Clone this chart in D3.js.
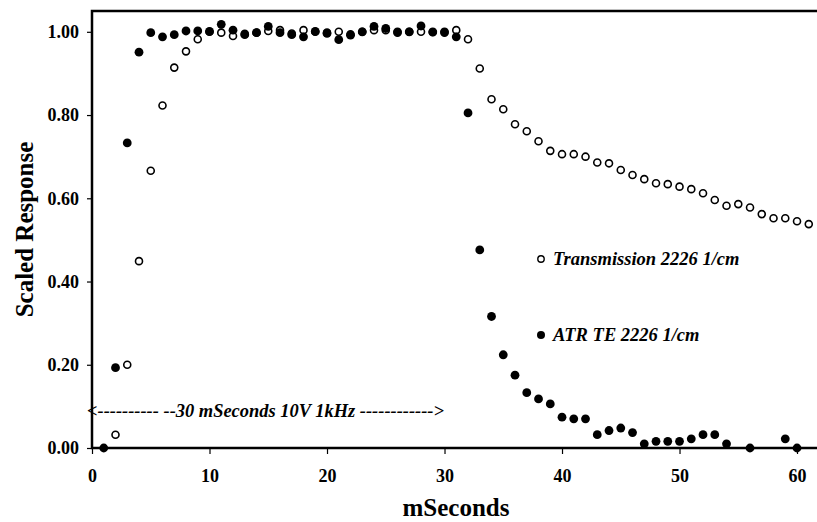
<!DOCTYPE html>
<html>
<head>
<meta charset="utf-8">
<script src="https://cdn.jsdelivr.net/npm/d3@7"></script>
<style>
  body { margin: 0; background: #fff; }
  svg { display: block; font-family: "Liberation Serif", "Times New Roman", serif; }
</style>
</head>
<body>
<div id="chart"></div>
<script>
// Transmission 2226 1/cm (open circles)
const transTime = [2, 3, 4, 5, 6, 7, 8, 9, 10, 11, 12, 13, 14, 15, 16, 17, 18, 19, 20, 21,
  22, 23, 24, 25, 26, 27, 28, 29, 30, 31, 32, 33, 34, 35, 36, 37, 38, 39, 40, 41,
  42, 43, 44, 45, 46, 47, 48, 49, 50, 51, 52, 53, 54, 55, 56, 57, 58, 59, 60, 61];
const transValues = [0.032, 0.200, 0.449, 0.666, 0.823, 0.914, 0.953, 0.982, 1.000, 0.998,
  0.990, 0.995, 0.998, 1.002, 1.004, 0.996, 1.004, 1.000, 0.998, 1.000,
  0.994, 1.000, 1.004, 1.004, 0.998, 1.000, 1.000, 0.999, 0.998, 1.004,
  0.982, 0.912, 0.838, 0.814, 0.778, 0.761, 0.737, 0.714, 0.706, 0.706,
  0.700, 0.686, 0.684, 0.668, 0.656, 0.646, 0.636, 0.634, 0.628, 0.622,
  0.612, 0.596, 0.582, 0.586, 0.578, 0.562, 0.552, 0.552, 0.545, 0.538];

// ATR TE 2226 1/cm (filled circles)
const atrTime = [1, 2, 3, 4, 5, 6, 7, 8, 9, 10, 11, 12, 13, 14, 15, 16, 17, 18, 19, 20,
  21, 22, 23, 24, 25, 26, 27, 28, 29, 30, 31, 32, 33, 34, 35, 36, 37, 38, 39, 40,
  41, 42, 43, 44, 45, 46, 47, 48, 49, 50, 51, 52, 53, 54, 56, 59, 60];
const atrValues = [0.000, 0.193, 0.733, 0.951, 0.998, 0.988, 0.993, 1.002, 1.002, 1.001,
  1.018, 1.004, 0.993, 0.998, 1.013, 0.998, 0.993, 0.988, 1.001, 0.996,
  0.981, 0.992, 1.000, 1.013, 1.008, 1.000, 1.000, 1.014, 1.000, 1.000,
  0.988, 0.805, 0.476, 0.316, 0.224, 0.175, 0.133, 0.118, 0.106, 0.074,
  0.070, 0.070, 0.032, 0.042, 0.048, 0.037, 0.010, 0.016, 0.016, 0.016,
  0.022, 0.032, 0.032, 0.010, 0.000, 0.022, 0.000];

const xTicks = [0, 10, 20, 30, 40, 50, 60];
const yTicks = [0, 0.2, 0.4, 0.6, 0.8, 1.0];

const width = 817, height = 522;
const plotLeft = 92, plotRight = 817, plotTop = 11, plotBottom = 448;

const svg = d3.select("#chart").append("svg")
    .attr("width", width)
    .attr("height", height);

const x = d3.scaleLinear().domain([0, 61.7]).range([plotLeft, plotRight]);
const y = d3.scaleLinear().domain([0, 1.05]).range([plotBottom, plotTop]);

// axes
const xAxis = svg.append("g")
    .attr("transform", `translate(0,${plotBottom})`)
    .call(d3.axisBottom(x).tickValues(xTicks).tickSize(6).tickPadding(15).tickFormat(d3.format("d")));
const yAxis = svg.append("g")
    .attr("transform", `translate(${plotLeft},0)`)
    .call(d3.axisLeft(y).tickValues(yTicks).tickSize(5).tickPadding(8).tickFormat(d3.format(".2f")));

[xAxis, yAxis].forEach(g => {
    g.select(".domain").remove();
    g.selectAll(".tick line").attr("stroke", "#000").attr("stroke-width", 1.2);
    g.selectAll(".tick text")
        .attr("font-family", "Liberation Serif")
        .attr("font-weight", "bold")
        .attr("font-size", 18)
        .attr("fill", "#000");
});

// frame: left, top, bottom
svg.append("path")
    .attr("d", `M${plotRight},${plotTop}H${plotLeft}V${plotBottom}H${plotRight}`)
    .attr("fill", "none")
    .attr("stroke", "#000")
    .attr("stroke-width", 2.5);

// axis titles
svg.append("text")
    .attr("transform", `translate(33,${(plotTop + plotBottom) / 2}) rotate(-90)`)
    .attr("text-anchor", "middle")
    .attr("font-weight", "bold")
    .attr("font-size", 25)
    .text("Scaled Response");

svg.append("text")
    .attr("x", 456)
    .attr("y", 516)
    .attr("text-anchor", "middle")
    .attr("font-weight", "bold")
    .attr("font-size", 25)
    .text("mSeconds");

// annotation
svg.append("text")
    .attr("x", 87)
    .attr("y", 417)
    .attr("font-weight", "bold")
    .attr("font-style", "italic")
    .attr("font-size", 19)
    .attr("textLength", 357)
    .attr("lengthAdjust", "spacingAndGlyphs")
    .text("<---------- --30 mSeconds 10V 1kHz ------------>");

// series
const trans = transTime.map((t, i) => ({t, v: transValues[i]}));
const atr = atrTime.map((t, i) => ({t, v: atrValues[i]}));

svg.append("g").selectAll("circle")
    .data(trans)
    .join("circle")
    .attr("cx", d => x(d.t))
    .attr("cy", d => y(d.v))
    .attr("r", 3.5)
    .attr("fill", "#fff")
    .attr("stroke", "#000")
    .attr("stroke-width", 1.6);

svg.append("g").selectAll("circle")
    .data(atr)
    .join("circle")
    .attr("cx", d => x(d.t))
    .attr("cy", d => y(d.v))
    .attr("r", 4.4)
    .attr("fill", "#000");

// legend
const legend = svg.append("g");
legend.append("circle")
    .attr("cx", 541).attr("cy", 259).attr("r", 3.2)
    .attr("fill", "#fff").attr("stroke", "#000").attr("stroke-width", 1.4);
legend.append("text")
    .attr("x", 553).attr("y", 265)
    .attr("font-weight", "bold").attr("font-style", "italic").attr("font-size", 18.5)
    .text("Transmission 2226 1/cm");
legend.append("circle")
    .attr("cx", 541).attr("cy", 335).attr("r", 4)
    .attr("fill", "#000");
legend.append("text")
    .attr("x", 553).attr("y", 341)
    .attr("font-weight", "bold").attr("font-style", "italic").attr("font-size", 18.5)
    .text("ATR TE 2226 1/cm");
</script>
</body>
</html>
